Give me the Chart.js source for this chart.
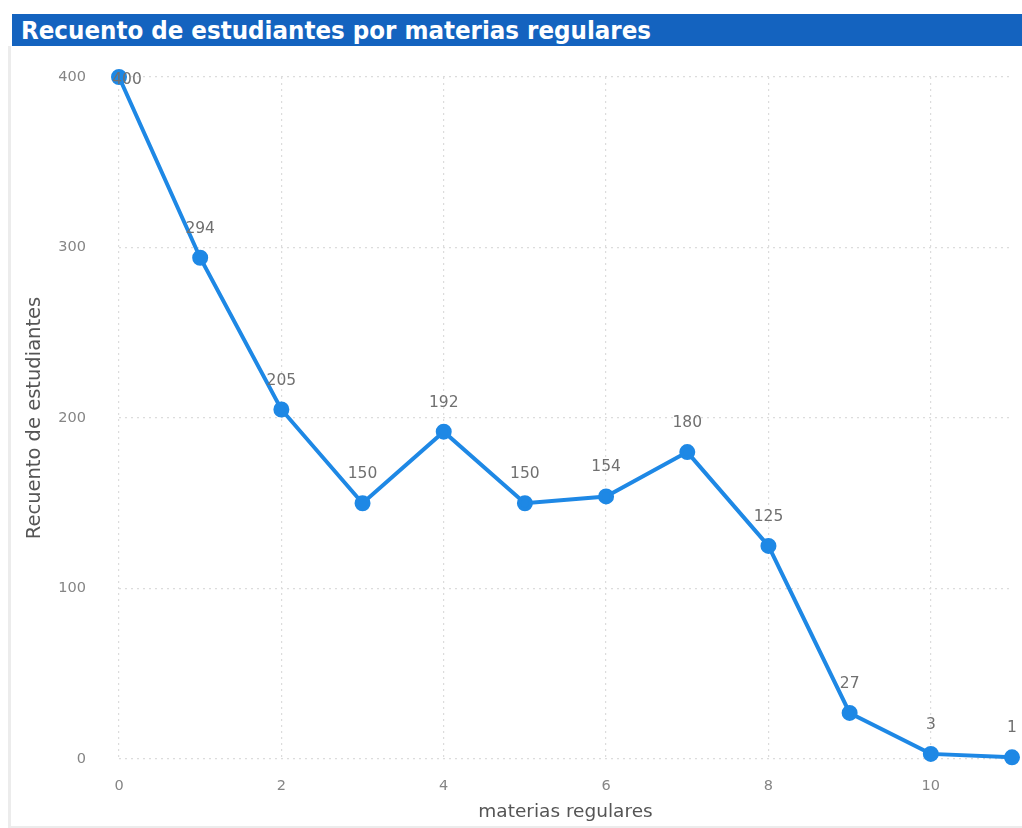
<!DOCTYPE html>
<html><head><meta charset="utf-8">
<script src="https://cdn.jsdelivr.net/npm/chart.js@4.4.1/dist/chart.umd.min.js"></script>
<style>
html,body{margin:0;padding:0;background:#fff;}
#wrap{position:relative;width:1022px;height:828px;overflow:hidden;}
#bar{position:absolute;left:12px;top:14px;width:1010px;height:32px;background:#1463bf;color:#fff;
 font-family:"DejaVu Sans Condensed","Liberation Sans Narrow","Open Sans",sans-serif;font-weight:bold;font-size:25.6px;line-height:32px;box-sizing:border-box;padding-left:9px;white-space:nowrap;}
#lb{position:absolute;left:8px;top:46px;width:3px;height:782px;background:#ececec;}
#bb{position:absolute;left:8px;top:826px;width:1014px;height:2px;background:#ececec;}
canvas{position:absolute;left:0;top:0;}
</style></head>
<body><div id="wrap"><canvas id="c" width="1022" height="828"></canvas><div id="bar">Recuento de estudiantes por materias regulares</div><div id="lb"></div><div id="bb"></div></div>
<script>
const materias = [0,1,2,3,4,5,6,7,8,9,10,11];
const recuento = [400,294,205,150,192,150,154,180,125,27,3,1];
const yTicks = [0,100,200,300,400];
const xTicks = [0,2,4,6,8,10];
const titulo = "Recuento de estudiantes por materias regulares";
const yTitulo = "Recuento de estudiantes";
const xTitulo = "materias regulares";

const FONT = '"DejaVu Sans","Open Sans",sans-serif';

const labelPlugin = {
  id:'labels',
  afterDatasetsDraw(chart){
    const ctx = chart.ctx;
    const meta = chart.getDatasetMeta(0);
    ctx.save();
    ctx.font = '15.5px ' + FONT;
    ctx.fillStyle = '#707070';
    ctx.textAlign = 'center';
    ctx.textBaseline = 'middle';
    meta.data.forEach((pt,i)=>{
      const v = chart.data.datasets[0].data[i].y;
      let x = pt.x, y = pt.y - 29;
      if (y < chart.chartArea.top - 5) { y = pt.y + 3; x = pt.x + 8; }
      ctx.fillText(String(v), x, y);
    });
    ctx.restore();
  }
};

new Chart(document.getElementById('c'), {
  type:'line',
  data:{datasets:[{
    data: materias.map((m,i)=>({x:m,y:recuento[i]})),
    borderColor:'#1e88e5', backgroundColor:'#1e88e5',
    borderWidth:4, pointRadius:6, pointHoverRadius:6, tension:0, clip:false
  }]},
  plugins:[labelPlugin],
  options:{
    responsive:false, animation:false,
    layout:{padding:{left:0,top:77,right:8,bottom:0}},
    plugins:{legend:{display:false},tooltip:{enabled:false}},
    scales:{
      x:{type:'linear',min:0,max:11,
        afterFit(s){s.height=69;},
        afterBuildTicks(s){s.ticks = xTicks.map(v=>({value:v}));},
        ticks:{includeBounds:false,color:'#858585',font:{family:FONT,size:14.5},padding:19},
        grid:{color:'#dcdcdc',lineWidth:1.2,drawTicks:false},
        border:{display:false,dash:[2,4]},
        title:{display:true,text:xTitulo,color:'#555',font:{family:FONT,size:18.5},padding:{top:0,bottom:5}}
      },
      y:{type:'linear',min:0,max:400,
        afterFit(s){s.width=119;},
        afterBuildTicks(s){s.ticks = yTicks.map(v=>({value:v}));},
        ticks:{color:'#858585',font:{family:FONT,size:14.5},padding:33},
        grid:{color:'#dcdcdc',lineWidth:1.2,drawTicks:false},
        border:{display:false,dash:[2,4]},
        title:{display:true,text:yTitulo,color:'#555',font:{family:FONT,size:19.5},padding:{top:23,bottom:0}}
      }
    }
  }
});
</script></body></html>
